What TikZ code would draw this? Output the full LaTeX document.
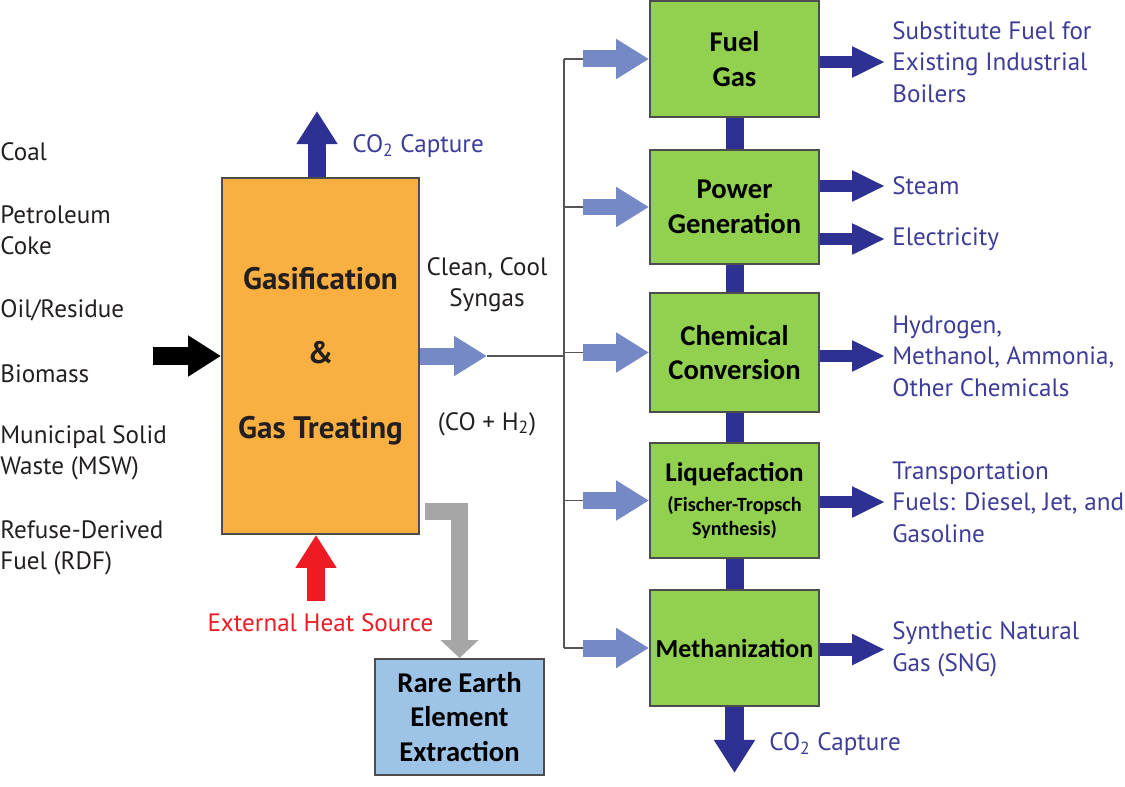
\documentclass[tikz,border=0pt]{standalone}
\usepackage{fontspec}
\setmainfont{PT Sans}
\newfontfamily\boxfont{Carlito}
\usetikzlibrary{arrows.meta, positioning}
\definecolor{gasorange}{HTML}{F9B041}
\definecolor{procgreen}{HTML}{92D050}
\definecolor{reeblue}{HTML}{9DC3E6}
\definecolor{outblue}{HTML}{2E3192}
\definecolor{feedblue}{HTML}{7589C6}
\definecolor{txtblue}{HTML}{3D3D99}
\definecolor{heatred}{HTML}{ED1C24}
\definecolor{ashgray}{HTML}{A6A6A6}
\definecolor{boxline}{HTML}{4D4D4D}
\definecolor{linkgray}{HTML}{555555}
\definecolor{txtblack}{HTML}{231F20}

\begin{document}
\begin{tikzpicture}[x=0.02cm, y=-0.02cm,
  lbl/.style={font=\fontsize{14.3}{17.9}\selectfont, text=txtblack, align=left, anchor=west, inner sep=0pt},
  outlbl/.style={lbl, text=txtblue},
  proc/.style={draw=boxline, line width=1.1pt, fill=procgreen, minimum width=3.38cm, inner sep=0pt,
    font=\boxfont\bfseries\fontsize{16.3}{19.8}\selectfont, align=center},
  outarrow/.style={draw=outblue, line width=0.25cm, -{Triangle[length=0.66cm, width=0.58cm]}},
  feedarrow/.style={draw=feedblue, line width=0.34cm, -{Triangle[length=0.66cm, width=0.76cm]}},
  bigarrow/.style={line width=0.37cm, -{Triangle[length=0.66cm, width=0.78cm]}},
  link/.style={draw=linkgray, line width=0.8pt}
]
\useasboundingbox (0,0) rectangle (1125,787);

% Feedstocks
\node[lbl] (coal)  at (0,152)   {Coal};
\node[lbl] (coke)  at (0,230.5) {Petroleum\\Coke};
\node[lbl] (oil)   at (0,310)   {Oil/Residue};
\node[lbl] (bio)   at (0,374)   {Biomass};
\node[lbl] (msw)   at (0,453)   {Municipal Solid\\Waste (MSW)};
\node[lbl] (rdf)   at (0,548)   {Refuse-Derived\\Fuel (RDF)};

% Gasifier
\node[draw=boxline, line width=1.1pt, fill=gasorange, minimum width=3.94cm, minimum height=7.12cm,
      font=\bfseries\fontsize{17.7}{42.5}\selectfont, align=center, text=txtblack] (gas) at (320.5,356)
  {Gasification\\\&\\Gas Treating};

\coordinate (feedin) at (153,356);
\draw[bigarrow, draw=black] (feedin) -- (gas.west);

\draw[bigarrow, draw=outblue] ([xshift=-0.07cm]gas.north) -- ++(0,-66) coordinate (topco);
\node[outlbl] (capt1) at (352,146) {CO\textsubscript{2} Capture};

\coordinate (heat) at (316,601);
\draw[bigarrow, draw=heatred] (heat) -- (heat |- gas.south);
\node[lbl, text=heatred, anchor=center] (heatlbl) at (320.5,623) {External Heat Source};

% Rare earth
\node[draw=boxline, line width=1.1pt, fill=reeblue, minimum width=3.38cm, minimum height=2.32cm,
      inner sep=0pt, font=\boxfont\bfseries\fontsize{16.3}{19.6}\selectfont, align=center] (ree) at (459.5,717)
  {Rare Earth\\Element\\Extraction};
\draw[ashgray, line width=0.34cm, -{Triangle[length=0.36cm, width=0.74cm]}]
  ([shift={(0.1cm,0.46cm)}]gas.south east) -| (ree.north);

% Syngas
\node[lbl, anchor=center, align=center] (syn) at (487,284.5) {Clean, Cool\\Syngas};
\node[lbl, anchor=center] (co) at (487,424) {(CO + H\textsubscript{2})};
\coordinate (syntip) at (487,356);
\draw[feedarrow] (gas.east) -- (syntip);

% Processes
\node[proc, minimum height=2.32cm] (fuel)  at (734.5,59)    {Fuel\\Gas};
\node[proc, minimum height=2.28cm] (power) at (734.5,207)   {Power\\Generation};
\node[proc, minimum height=2.38cm] (chem)  at (734.5,352.5) {Chemical\\Conversion};
\node[proc, minimum height=2.30cm, font=\boxfont\bfseries\fontsize{15.4}{19.8}\selectfont] (liq) at (734.5,500.5)
  {Liquefaction\\[-3pt]{\fontsize{11.5}{13}\selectfont(Fischer-Tropsch}\\[-6pt]{\fontsize{11.5}{13}\selectfont Synthesis)}};
\node[proc, minimum height=2.32cm, font=\boxfont\bfseries\fontsize{14.8}{19.8}\selectfont] (meth) at (734.5,648)
  {Methanization};

\draw[outblue, line width=0.36cm] (fuel.south) -- (power.north);
\draw[outblue, line width=0.36cm] (power.south) -- (chem.north);
\draw[outblue, line width=0.36cm] (chem.south) -- (liq.north);
\draw[outblue, line width=0.36cm] (liq.south) -- (meth.north);
\draw[bigarrow, draw=outblue] (meth.south) -- ++(0,66) coordinate (botco);
\node[outlbl] (capt2) at (769,744) {CO\textsubscript{2} Capture};

% Syngas distribution
\coordinate (bus) at (564,356);
\draw[link] (syntip) -- (bus);
\draw[link] (bus |- fuel.west) -- (bus |- meth.west);
\foreach \b in {fuel,power,chem,liq,meth} {
  \draw[link] (bus |- \b.west) -- ++(19,0) coordinate (f\b);
  \draw[feedarrow] (f\b) -- (\b.west);
}

% Products
\node[outlbl] (boil)  at (892,62)  {Substitute Fuel for\\Existing Industrial\\Boilers};
\node[outlbl] (steam) at (892,186) {Steam};
\node[outlbl] (elec)  at (892,239) {Electricity};
\node[outlbl] (chems) at (892,356) {Hydrogen,\\Methanol, Ammonia,\\Other Chemicals};
\node[outlbl] (trans) at (892,502) {Transportation\\Fuels: Diesel, Jet, and\\Gasoline};
\node[outlbl] (sng)   at (892,649.5) {Synthetic Natural\\Gas (SNG)};

\draw[outarrow] (fuel.east |- boil.west) -- ([xshift=-0.14cm]boil.west);
\draw[outarrow] (power.east |- steam.west) -- ([xshift=-0.14cm]steam.west);
\draw[outarrow] (power.east |- elec.west) -- ([xshift=-0.14cm]elec.west);
\draw[outarrow] (chem.east |- chems.west) -- ([xshift=-0.14cm]chems.west);
\draw[outarrow] (liq.east |- trans.west) -- ([xshift=-0.14cm]trans.west);
\draw[outarrow] (meth.east |- sng.west) -- ([xshift=-0.14cm]sng.west);
\end{tikzpicture}
\end{document}
